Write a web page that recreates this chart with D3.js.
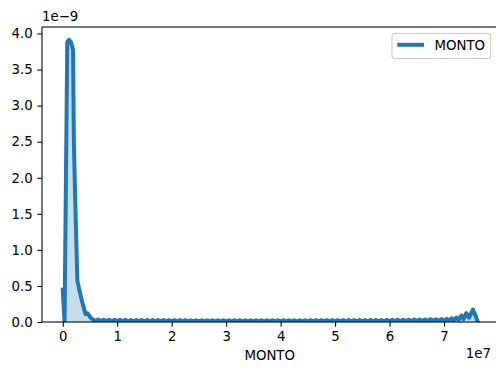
<!DOCTYPE html>
<html>
<head>
<meta charset="utf-8">
<script src="https://cdn.jsdelivr.net/npm/d3@7"></script>
<style>
  html, body { margin: 0; padding: 0; background: #fff; }
  svg { display: block; }
  text { font-family: "DejaVu Sans", sans-serif; font-size: 13.33px; fill: #000; }
</style>
</head>
<body>
<svg id="chart" width="496" height="369"></svg>
<script>
// Kernel density estimate of MONTO (x in units of 1e7, density in units of 1e-9)
const montoX = [
  0.000, 0.033, 0.083, 0.112, 0.152, 0.189, 0.204, 0.229, 0.268, 0.349, 0.418, 0.455, 0.500,
  0.55, 0.60, 0.65, 0.70, 0.75, 0.80, 0.85, 0.90, 0.95, 1.00,
  1.05, 1.10, 1.15, 1.20, 1.25, 1.30, 1.35, 1.40, 1.45, 1.50,
  1.55, 1.60, 1.65, 1.70, 1.75, 1.80, 1.85, 1.90, 1.95, 2.00,
  2.05, 2.10, 2.15, 2.20, 2.25, 2.30, 2.35, 2.40, 2.45, 2.50,
  2.55, 2.60, 2.65, 2.70, 2.75, 2.80, 2.85, 2.90, 2.95, 3.00,
  3.05, 3.10, 3.15, 3.20, 3.25, 3.30, 3.35, 3.40, 3.45, 3.50,
  3.55, 3.60, 3.65, 3.70, 3.75, 3.80, 3.85, 3.90, 3.95, 4.00,
  4.05, 4.10, 4.15, 4.20, 4.25, 4.30, 4.35, 4.40, 4.45, 4.50,
  4.55, 4.60, 4.65, 4.70, 4.75, 4.80, 4.85, 4.90, 4.95, 5.00,
  5.05, 5.10, 5.15, 5.20, 5.25, 5.30, 5.35, 5.40, 5.45, 5.50,
  5.55, 5.60, 5.65, 5.70, 5.75, 5.80, 5.85, 5.90, 5.95, 6.00,
  6.05, 6.10, 6.15, 6.20, 6.25, 6.30, 6.35, 6.40, 6.45, 6.50,
  6.55, 6.60, 6.65, 6.70, 6.75, 6.80, 6.85, 6.90, 6.95, 7.00,
  7.05, 7.09, 7.14, 7.18, 7.23, 7.27, 7.32, 7.36, 7.41, 7.46, 7.53, 7.58, 7.62
];
const density = [
  0.45, 0.00, 3.88, 3.91, 3.88, 3.77, 2.51, 1.69, 0.57, 0.30, 0.11, 0.12, 0.07,
  0.036, 0.014, 0.034, 0.012, 0.032, 0.012, 0.031, 0.011, 0.030, 0.010,
  0.029, 0.010, 0.029, 0.010, 0.028, 0.010, 0.028, 0.009, 0.027, 0.009,
  0.027, 0.009, 0.026, 0.009, 0.026, 0.009, 0.026, 0.009, 0.025, 0.009,
  0.025, 0.008, 0.025, 0.008, 0.025, 0.008, 0.024, 0.008, 0.024, 0.008,
  0.024, 0.008, 0.024, 0.008, 0.024, 0.008, 0.024, 0.008, 0.024, 0.008,
  0.024, 0.008, 0.023, 0.008, 0.024, 0.008, 0.024, 0.008, 0.023, 0.008,
  0.024, 0.008, 0.024, 0.008, 0.023, 0.008, 0.024, 0.008, 0.024, 0.008,
  0.024, 0.008, 0.024, 0.008, 0.024, 0.008, 0.024, 0.008, 0.024, 0.008,
  0.025, 0.008, 0.025, 0.008, 0.025, 0.008, 0.025, 0.008, 0.025, 0.009,
  0.025, 0.009, 0.025, 0.009, 0.026, 0.009, 0.026, 0.009, 0.026, 0.009,
  0.027, 0.009, 0.027, 0.010, 0.028, 0.010, 0.028, 0.010, 0.029, 0.010,
  0.030, 0.011, 0.030, 0.011, 0.031, 0.012, 0.032, 0.012, 0.033, 0.013,
  0.034, 0.013, 0.035, 0.014, 0.037, 0.015, 0.039, 0.016, 0.041, 0.017,
  0.045, 0.020, 0.052, 0.024, 0.062, 0.030, 0.090, 0.040, 0.122, 0.060, 0.172, 0.085, 0.000
];
const xTicks = [0, 1, 2, 3, 4, 5, 6, 7];
const yTicks = [0.0, 0.5, 1.0, 1.5, 2.0, 2.5, 3.0, 3.5, 4.0];
const seriesName = "MONTO";
const lineColor = "#1f77b4";

const svg = d3.select("#chart");
const m = { left: 42, right: 498.5, top: 27, bottom: 322 };
const tickLen = 4.67, tickPad = 4.67, spineW = 1.07;

const x = d3.scaleLinear().domain([-0.381, 8.0]).range([m.left, m.right]);
const y = d3.scaleLinear().domain([0, 4.09]).range([m.bottom, m.top]);

const pts = montoX.map((v, i) => [v, density[i]]);

svg.append("defs").append("clipPath").attr("id", "plotclip")
  .append("rect").attr("x", m.left).attr("y", m.top)
  .attr("width", m.right - m.left).attr("height", m.bottom - m.top);

const plot = svg.append("g").attr("clip-path", "url(#plotclip)");

// shaded area under the density curve
plot.append("path")
  .datum(pts)
  .attr("d", d3.area().x(d => x(d[0])).y0(y(0)).y1(d => y(d[1])))
  .attr("fill", lineColor)
  .attr("fill-opacity", 0.25)
  .attr("stroke", "none");

// density curve
plot.append("path")
  .datum(pts)
  .attr("d", d3.line().x(d => x(d[0])).y(d => y(d[1])))
  .attr("fill", "none")
  .attr("stroke", lineColor)
  .attr("stroke-width", 4)
  .attr("stroke-linejoin", "round")
  .attr("stroke-linecap", "square");

// axes
const xAxis = d3.axisBottom(x).tickValues(xTicks).tickFormat(d3.format("d"))
  .tickSize(tickLen).tickPadding(tickPad);
const yAxis = d3.axisLeft(y).tickValues(yTicks).tickFormat(d3.format(".1f"))
  .tickSize(tickLen).tickPadding(tickPad);

const gx = svg.append("g").attr("transform", `translate(0,${m.bottom})`).call(xAxis);
const gy = svg.append("g").attr("transform", `translate(${m.left},0)`).call(yAxis);
[gx, gy].forEach(g => {
  g.select(".domain").remove();
  g.selectAll(".tick line").attr("stroke", "#000").attr("stroke-width", spineW);
  g.selectAll(".tick text").attr("fill", "#000")
    .style("font-family", "DejaVu Sans, sans-serif").style("font-size", "13.33px");
});

// frame
svg.append("rect")
  .attr("x", m.left).attr("y", m.top)
  .attr("width", m.right - m.left).attr("height", m.bottom - m.top)
  .attr("fill", "none").attr("stroke", "#000").attr("stroke-width", spineW);

// scale multipliers and axis label
svg.append("text").attr("x", m.left).attr("y", 21).text("1e\u22129");
svg.append("text").attr("x", 491).attr("y", 358).attr("text-anchor", "end").text("1e7");
svg.append("text").attr("x", (m.left + 497.4) / 2).attr("y", 359.5)
  .attr("text-anchor", "middle").text(seriesName);

// legend
const lg = svg.append("g");
lg.append("rect").attr("x", 392).attr("y", 33.5).attr("width", 98.6).attr("height", 25)
  .attr("rx", 2.7).attr("fill", "#fff").attr("fill-opacity", 0.8)
  .attr("stroke", "#cccccc").attr("stroke-width", spineW);
lg.append("line").attr("x1", 397.3).attr("x2", 424).attr("y1", 44.8).attr("y2", 44.8)
  .attr("stroke", lineColor).attr("stroke-width", 4);
lg.append("text").attr("x", 434.5).attr("y", 49.6).text(seriesName);
</script>
</body>
</html>
